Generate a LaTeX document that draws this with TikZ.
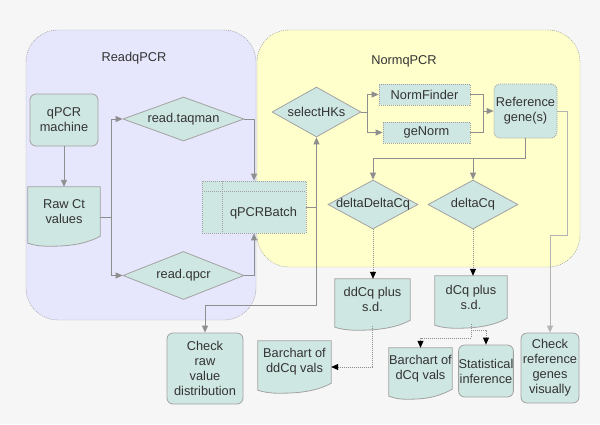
\documentclass[tikz,border=0pt]{standalone}
\usepackage{fontspec}
\setmainfont{Liberation Sans}
\usetikzlibrary{shapes.geometric,arrows.meta,calc}
\definecolor{bgcol}{HTML}{F6F6F6}
\definecolor{readcol}{HTML}{E6E6FD}
\definecolor{normcol}{HTML}{FFFFCC}
\definecolor{boxcol}{HTML}{CFE7E2}
\definecolor{edgecol}{HTML}{A2A2A2}
\definecolor{linecol}{HTML}{8E8E8E}
\definecolor{lightcol}{HTML}{B4B4B4}
\definecolor{txtcol}{HTML}{333333}
\pgfdeclarelayer{areas}
\pgfdeclarelayer{docs}
\pgfsetlayers{areas,docs,main}
\tikzset{
  every node/.style={font=\fontsize{12.8}{15}\selectfont, text=txtcol, align=center},
  area/.style={draw=linecol, dash pattern=on 1pt off 1pt, rounded corners=32pt, inner sep=0pt},
  proc/.style={draw=edgecol, fill=boxcol, line width=0.8pt, rounded corners=6pt, inner sep=1pt},
  dproc/.style={proc, dash pattern=on 1pt off 1pt},
  box/.style={draw=edgecol, fill=boxcol, line width=0.8pt, dash pattern=on 1pt off 1pt, inner sep=1pt},
  decision/.style={shape=diamond, aspect=2, draw=edgecol, fill=boxcol, line width=0.8pt, inner xsep=-14pt, inner ysep=0pt},
  doc/.style={inner sep=1pt},
  store/.style={box, path picture={
      \draw[edgecol, dash pattern=on 1pt off 1pt] ([yshift=-10pt]path picture bounding box.north west) -- ([yshift=-10pt]path picture bounding box.north east);
      \draw[edgecol, dash pattern=on 1pt off 1pt] ([xshift=20pt]path picture bounding box.north west) -- ([xshift=20pt]path picture bounding box.south west);}},
  line/.style={draw=linecol, line width=0.9pt},
  flow/.style={line, -{Triangle[length=7pt,width=6pt]}},
  flowlight/.style={flow, draw=lightcol},
  dotline/.style={draw=linecol, line width=0.8pt, dash pattern=on 1pt off 1pt},
  dotflow/.style={dotline, -{Triangle[length=7pt,width=6pt,color=black]}}
}
% document shape with wavy bottom
\newcommand{\docshape}[1]{%
  \begin{pgfonlayer}{docs}
  \draw[edgecol, line width=0.8pt, fill=boxcol] (#1.north west) -- (#1.north east) -- (#1.south east)
    .. controls +(-18pt,-10pt) and +(12pt,0pt) .. ($(#1.south west)!0.28!(#1.south east)+(0pt,-10pt)$)
    .. controls +(-8pt,0pt) and +(6pt,-2pt) .. ([yshift=-7pt]#1.south west) -- cycle;
  \end{pgfonlayer}}

\begin{document}
\begin{tikzpicture}[x=1pt,y=-1pt]
\useasboundingbox (0,0) rectangle (600,424);
	%Areas
\begin{pgfonlayer}{areas}
\fill[bgcol] (0,0) rectangle (600,424);
\node[area, fill=readcol, minimum width=230, minimum height=290] (readarea) at (141,175) {};
\node[area, fill=normcol, minimum width=323, minimum height=237] (normarea) at (418.5,148.5) {};
\end{pgfonlayer}
\node (readtitle) at (134,58) {ReadqPCR};
\node (normtitle) at (404,61) {NormqPCR};
	%ReadqPCR
\node[proc, minimum width=68, minimum height=52] (machine) at (64,120) {qPCR\\machine};
\node[doc, minimum width=72, minimum height=49] (rawct) at (64,211.5) {Raw Ct\\values}; \docshape{rawct}
\node[decision, minimum width=121, minimum height=44] (taqman) at (183.5,119) {read.taqman};
\node[decision, minimum width=121, minimum height=48] (qpcr) at (183.5,275.5) {read.qpcr};
\node[store, minimum width=104, minimum height=52] (batch) at (254,207) {};
\node (batchtext) at (263.5,213.5) {qPCRBatch}; %text sits low and right
	%NormqPCR
\node[decision, minimum width=89, minimum height=50] (selhk) at (316.5,112) {selectHKs};
\node[box, minimum width=91, minimum height=21] (normf) at (424.5,94.5) {NormFinder};
\node[box, minimum width=87, minimum height=21] (genorm) at (426.5,132.5) {geNorm};
\node[dproc, minimum width=63, minimum height=54] (refgene) at (525.5,111) {Reference\\gene(s)};
\node[decision, minimum width=90, minimum height=49] (ddelta) at (373,204.5) {deltaDeltaCq};
\node[decision, minimum width=90, minimum height=49] (delta) at (473,204.5) {deltaCq};
	%Outputs
\node[doc, minimum width=75, minimum height=41] (ddcq) at (372.5,299.5) {ddCq plus\\s.d.}; \docshape{ddcq}
\node[doc, minimum width=72, minimum height=42] (dcq) at (471,297) {dCq plus\\s.d.}; \docshape{dcq}
\node[proc, minimum width=76, minimum height=71] (checkraw) at (205,368.5) {Check\\raw\\value\\distribution};
\node[doc, minimum width=73, minimum height=42] (barddcq) at (294.5,362) {Barchart of\\ddCq vals}; \docshape{barddcq}
\node[doc, minimum width=63, minimum height=41, inner xsep=0pt] (bardcq) at (420.5,368.5) {Barchart of\\dCq vals}; \docshape{bardcq}
\node[proc, minimum width=54, minimum height=52, inner xsep=0pt] (stat) at (486,371) {Statistical\\inference};
\node[proc, minimum width=58, minimum height=70] (checkref) at (550,368) {Check\\reference\\genes\\visually};
	%Bend points
\coordinate (rcsplit) at (111,217);
\coordinate (rawturn) at (316.5,305);
\coordinate (hksplit) at (367,112);
\coordinate (refjoin) at (483,111);
\coordinate (deltasplit) at (525.5,158);
\coordinate (refturn) at (567,235);
\coordinate (statturn) at (471,330);
\coordinate (barturn) at (471,338);
	%Connectors
\draw[flow] (machine) -- (rawct);
\draw[line] ([yshift=-5.5pt]rawct.east) -- (rcsplit);
\draw[flow] (rcsplit) |- (taqman.west);
\draw[flow] (rcsplit) |- (qpcr.west);
\draw[flow] (taqman.east) -| (batch.north);
\draw[flow] (qpcr.east) -| (batch.south);
\draw[flow] (batch.east) -| (selhk.south);
\draw[flow] (batch.east -| selhk.south) -- (rawturn) -| (checkraw.north);
\draw[line] (selhk.east) -- (hksplit);
\draw[flow] (hksplit) |- (normf.west);
\draw[flow] (hksplit) |- (genorm.west);
\draw[line] (normf.east) -| (refjoin);
\draw[line] (genorm.east) -| (refjoin);
\draw[flow] (refjoin) -- (refgene.west);
\draw[line] (refgene.south) -- (deltasplit);
\draw[flow] (deltasplit) -| (ddelta.north);
\draw[flow] (deltasplit) -| (delta.north);
\draw[flowlight] (refgene.east) -| (refturn) -| (checkref.north);
\draw[dotflow] (ddelta.south) -- (ddelta.south |- ddcq.north);
\draw[dotflow] (delta.south) -- (delta.south |- dcq.north);
\draw[dotflow] ([yshift=-6pt]ddcq.south) |- ([yshift=-5pt]barddcq.east);
\draw[dotline] ([yshift=-6pt]dcq.south) -- (barturn);
\draw[dotflow] (barturn) -| (bardcq.north);
\draw[dotflow] (statturn) -| (stat.north);
\end{tikzpicture}
\end{document}
